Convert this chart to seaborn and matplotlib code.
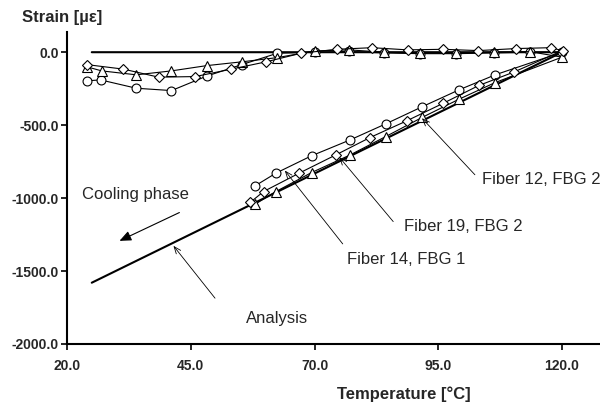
import numpy as np
import pandas as pd
import matplotlib
matplotlib.use("Agg")
import matplotlib.pyplot as plt
import seaborn as sns

# Fiber 14, FBG 1 (circles): heating branch then cooling branch
f14_temp = [24.0, 26.8, 34.0, 41.1, 48.2, 55.3, 62.5, 70.1, 77.0, 84.1, 91.3, 98.5, 106.3, 113.5, 120.0,
            106.5, 99.2, 91.8, 84.4, 77.2, 69.4, 62.2, 58.0]
f14_strain = [-196, -190, -247, -263, -164, -85, -7, 0, 5, -5, -10, -10, -5, 0, 0,
              -155, -258, -373, -491, -601, -710, -829, -916]

# Fiber 19, FBG 2 (diamonds)
f19_temp = [24.0, 31.4, 38.5, 45.9, 53.2, 60.2, 67.3, 74.5, 81.6, 88.8, 96.0, 103.1, 110.7, 117.7, 120.1,
            110.2, 103.2, 96.0, 88.6, 81.2, 74.3, 66.9, 59.7, 57.0]
f19_strain = [-85, -116, -171, -167, -116, -66, -7, 20, 31, 16, 20, 11, 25, 31, 11,
              -137, -228, -350, -471, -585, -704, -829, -955, -1030]

# Fiber 12, FBG 2 (triangles)
f12_temp = [24.0, 27.0, 34.0, 41.1, 48.2, 55.3, 62.5, 70.1, 77.0, 84.1, 91.3, 98.5, 106.3, 113.5, 120.0,
            106.5, 99.2, 91.8, 84.4, 77.2, 69.4, 62.2, 58.0]
f12_strain = [-100, -128, -155, -128, -92, -66, -37, 9, 16, 0, -7, -7, 0, 4, -34,
              -208, -322, -446, -578, -704, -825, -955, -1042]

# Analysis: stress free on heating, linear on cooling
ana_temp = [25.0, 120.0, 25.0]
ana_strain = [0, 0, -1580]

x_ticks = [20.0, 45.0, 70.0, 95.0, 120.0]
y_ticks = [0.0, -500.0, -1000.0, -1500.0, -2000.0]

sns.set_style("ticks")
plt.rcParams['font.family'] = ['Liberation Sans', 'DejaVu Sans']

fig = plt.figure(figsize=(6.0, 4.08), dpi=100)
ax = fig.add_axes([0.1117, 0.1569, 0.9075, 0.7652])

sns.lineplot(x=ana_temp, y=ana_strain, sort=False, estimator=None, color='black', lw=1.5, ax=ax)

mk = dict(mfc='white', mec='black', mew=0.8, color='black', lw=0.8)
sns.lineplot(x=f14_temp, y=f14_strain, sort=False, estimator=None, marker='o', ms=6.4, ax=ax, **mk)
sns.lineplot(x=f12_temp, y=f12_strain, sort=False, estimator=None, marker='^', ms=6.8, ax=ax, **mk)
sns.lineplot(x=f19_temp, y=f19_strain, sort=False, estimator=None, marker='D', ms=4.8, ax=ax, **mk)

ax.set_xlim(20, 130)
ax.set_ylim(-2000, 140)
ax.set_xticks(x_ticks)
ax.set_xticklabels([f"{v:.1f}" for v in x_ticks], fontweight='bold', fontsize=10)
ax.set_yticks(y_ticks)
ax.set_yticklabels([f"{v:.1f}" for v in y_ticks], fontweight='bold', fontsize=10)
ax.tick_params(axis='both', direction='out', length=4, width=1.2, color='black')
ax.tick_params(axis='x', pad=7)
ax.tick_params(axis='y', pad=2)
sns.despine(ax=ax)
for s in ['left', 'bottom']:
    ax.spines[s].set_linewidth(1.5)
    ax.spines[s].set_color('black')
ax.grid(False)

ax.set_xlabel('Temperature [°C]', fontweight='bold', fontsize=12)
ax.xaxis.set_label_coords(0.618, -0.16)
ax.xaxis.label.set_va('center')
ax.set_ylabel('Strain [µε]', fontweight='bold', fontsize=12, rotation=0, ha='left', va='center')
ax.yaxis.set_label_coords(-0.083, 1.0465)

arr = dict(arrowstyle='->,head_length=0.5,head_width=0.2', lw=0.6, color='black', shrinkA=0, shrinkB=0)
ax.annotate('', xy=(91.7, -452), xytext=(102.4, -840), arrowprops=arr)
ax.annotate('', xy=(75.0, -719), xytext=(85.9, -1161), arrowprops=arr)
ax.annotate('', xy=(64.0, -811), xytext=(75.7, -1314), arrowprops=arr)
ax.annotate('', xy=(41.5, -1327), xytext=(49.9, -1686), arrowprops=arr)
ax.annotate('', xy=(30.6, -1293), xytext=(42.7, -1099),
            arrowprops=dict(arrowstyle='-|>,head_length=0.7,head_width=0.3', lw=0.8,
                            color='black', shrinkA=0, shrinkB=0))

tk = dict(fontsize=12, ha='left', va='center')
ax.text(103.8, -875, 'Fiber 12, FBG 2', **tk)
ax.text(88.1, -1197, 'Fiber 19, FBG 2', **tk)
ax.text(76.5, -1423, 'Fiber 14, FBG 1', **tk)
ax.text(56.2, -1828, 'Analysis', **tk)
ax.text(23.0, -978, 'Cooling phase', **tk)

fig.savefig('out.png', dpi=100)
